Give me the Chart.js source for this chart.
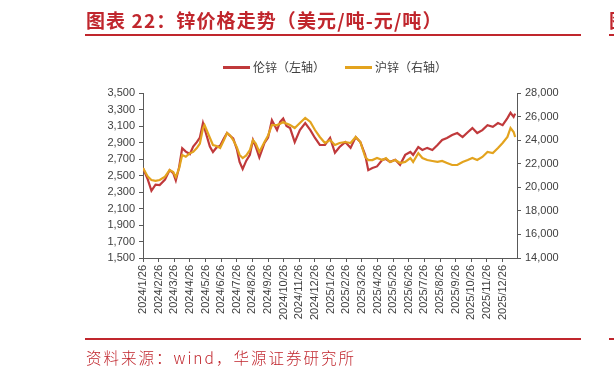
<!DOCTYPE html>
<html>
<head>
<meta charset="utf-8">
<script src="https://cdn.jsdelivr.net/npm/chart.js@4.4.1/dist/chart.umd.min.js"></script>
<style>
  html, body { margin: 0; padding: 0; background: #fff; }
  #wrap { position: relative; width: 614px; height: 377px; overflow: hidden; }
  #myChart { position: absolute; left: 0; top: 0; }
  .title { position: absolute; left: 86px; top: 7px; font: bold 19px "Noto Sans CJK SC"; color: #C0262D; white-space: nowrap; line-height: 26px; letter-spacing: 1.1px; }
  .rule { position: absolute; height: 2px; background: #C0262D; }
  .legend { position: absolute; top: 59px; font: 12px "Noto Sans CJK SC"; color: #404040; white-space: nowrap; line-height: 16px; }
  .legend span.ln { display: inline-block; width: 27px; height: 3px; vertical-align: middle; margin-right: 3px; position: relative; top: -1px; }
  .source { position: absolute; left: 86px; top: 346px; font: 300 15.5px "Noto Sans CJK SC"; color: #C0262D; letter-spacing: 2px; white-space: nowrap; line-height: 22px; }
</style>
</head>
<body>
<div id="wrap">
  <canvas id="myChart" width="614" height="377"></canvas>
  <div class="title">图表 22：锌价格走势（美元/吨-元/吨）</div>
  <div class="rule" style="left:85px; width:496px; top:34px;"></div>
  <div class="title" style="left:609px;">图</div>
  <div class="rule" style="left:609px; width:10px; top:34px;"></div>
  <div class="legend" style="left:223px;"><span class="ln" style="background:#C0393B"></span>伦锌（左轴）</div>
  <div class="legend" style="left:345px;"><span class="ln" style="background:#E3A31E"></span>沪锌（右轴）</div>
  <div class="rule" style="left:85px; width:496px; top:338px;"></div>
  <div class="rule" style="left:609px; width:10px; top:338px;"></div>
  <div class="source">资料来源：wind，华源证券研究所</div>
</div>
<script>
const tickLabels = ['2024/1/26', '2024/2/26', '2024/3/26', '2024/4/26', '2024/5/26', '2024/6/26',
  '2024/7/26', '2024/8/26', '2024/9/26', '2024/10/26', '2024/11/26', '2024/12/26',
  '2025/1/26', '2025/2/26', '2025/3/26', '2025/4/26', '2025/5/26', '2025/6/26',
  '2025/7/26', '2025/8/26', '2025/9/26', '2025/10/26', '2025/11/26', '2025/12/26']

const fechas = ['2024-01-26', '2024-02-05', '2024-02-12', '2024-02-20', '2024-02-28', '2024-03-08',
  '2024-03-17', '2024-03-24', '2024-03-29', '2024-04-05', '2024-04-11', '2024-04-18',
  '2024-04-26', '2024-05-02', '2024-05-09', '2024-05-15', '2024-05-21', '2024-05-24',
  '2024-06-04', '2024-06-10', '2024-06-17', '2024-06-24', '2024-07-01', '2024-07-07',
  '2024-07-13', '2024-07-19', '2024-07-26', '2024-08-01', '2024-08-07', '2024-08-14',
  '2024-08-21', '2024-08-27', '2024-09-02', '2024-09-09', '2024-09-19', '2024-09-26',
  '2024-10-03', '2024-10-13', '2024-10-19', '2024-10-25', '2024-11-01', '2024-11-08',
  '2024-11-17', '2024-11-27', '2024-12-07', '2024-12-17', '2024-12-26', '2025-01-05',
  '2025-01-15', '2025-01-25', '2025-02-04', '2025-02-13', '2025-02-24', '2025-03-04',
  '2025-03-14', '2025-03-23', '2025-04-02', '2025-04-08', '2025-04-16', '2025-04-25',
  '2025-05-05', '2025-05-12', '2025-05-20', '2025-05-30', '2025-06-09', '2025-06-19',
  '2025-06-29', '2025-07-04', '2025-07-14', '2025-07-22', '2025-08-01', '2025-08-11',
  '2025-08-21', '2025-08-30', '2025-09-09', '2025-09-19', '2025-09-29', '2025-10-09',
  '2025-10-19', '2025-10-28', '2025-11-07', '2025-11-17', '2025-11-27', '2025-12-07',
  '2025-12-17', '2025-12-26', '2026-01-05', '2026-01-11', '2026-01-17', '2026-01-20']

// 伦锌 美元/吨
const lunXin = [2590, 2450, 2315, 2390, 2385, 2450,
  2565, 2530, 2440, 2600, 2830, 2790,
  2760, 2850, 2905, 2960, 3135, 3070,
  2850, 2785, 2840, 2860, 2950, 3015,
  2980, 2950, 2820, 2665, 2580, 2680,
  2750, 2930, 2850, 2720, 2895, 2960,
  3170, 3050, 3150, 3190, 3100, 3075,
  2905, 3050, 3135, 3050, 2955, 2870,
  2870, 2955, 2775, 2845, 2905, 2835,
  2965, 2905, 2750, 2565, 2590, 2610,
  2690, 2700, 2665, 2690, 2630, 2750,
  2785, 2750, 2845, 2810, 2835, 2810,
  2870, 2930, 2955, 2990, 3015, 2965,
  3025, 3075, 3015, 3050, 3110, 3090,
  3135, 3110, 3195, 3260, 3210, 3250]

// 沪锌 元/吨
const huXin = [21640, 20900, 20620, 20550, 20620, 20900,
  21470, 21300, 20870, 21600, 22740, 22600,
  22900, 23000, 23330, 23700, 25000, 25280,
  24200, 23590, 23500, 23330, 24000, 24600,
  24400, 24010, 23400, 22740, 22480, 22700,
  23160, 24010, 23700, 23000, 23840, 24400,
  25280, 25280, 25400, 25540, 25400, 25280,
  25030, 25450, 25880, 25540, 24860, 24270,
  23760, 24010, 23590, 23760, 23840, 23760,
  24270, 23840, 22570, 22310, 22310, 22480,
  22310, 22480, 22150, 22310, 22060, 22150,
  22480, 22150, 22900, 22480, 22310, 22230,
  22150, 22230, 22060, 21890, 21890, 22150,
  22310, 22480, 22310, 22570, 23000, 22900,
  23330, 23760, 24270, 25030, 24690, 24270]

// fecha -> meses desde 2024/1/26
function aMes(f) {
  const [y, m, d] = f.split('-').map(Number)
  return (y - 2024) * 12 + (m - 1) + (d - 26) / 30.4
}

const colorEje = '#595959'
const fuente = { family: 'Liberation Sans', size: 11 }

const ctx = document.getElementById('myChart');
new Chart(ctx, {
  type: 'line',
  data: {
    datasets: [{
      label: '伦锌（左轴）',
      data: fechas.map((f, i) => ({ x: aMes(f), y: lunXin[i] })),
      borderColor: '#C0393B',
      borderWidth: 2.2,
      pointRadius: 0,
      tension: 0,
      yAxisID: 'y',
      order: 1
    }, {
      label: '沪锌（右轴）',
      data: fechas.map((f, i) => ({ x: aMes(f), y: huXin[i] })),
      borderColor: '#E3A31E',
      borderWidth: 2.2,
      pointRadius: 0,
      tension: 0,
      yAxisID: 'y1',
      order: 0
    }]
  },
  options: {
    responsive: false,
    animation: false,
    devicePixelRatio: 1,
    layout: { padding: { top: 93, left: 0, right: 0, bottom: 0 } },
    plugins: { legend: { display: false }, tooltip: { enabled: false } },
    scales: {
      x: {
        type: 'linear',
        min: 0,
        max: 23.92,
        afterBuildTicks: s => { s.ticks = tickLabels.map((t, i) => ({ value: i })) },
        afterFit: s => { s.height = 119 },
        ticks: {
          autoSkip: false,
          maxRotation: 90,
          minRotation: 90,
          padding: 3,
          color: '#404040',
          font: fuente,
          callback: v => tickLabels[Math.round(v)]
        },
        grid: { drawOnChartArea: false, tickLength: 4, color: colorEje },
        border: { color: colorEje }
      },
      y: {
        position: 'left',
        min: 1500,
        max: 3500,
        afterFit: s => { s.width = 143 },
        ticks: {
          stepSize: 200,
          padding: 4,
          color: '#404040',
          font: fuente,
          callback: v => v.toLocaleString('en-US')
        },
        grid: { drawOnChartArea: false, tickLength: 4, color: colorEje },
        border: { color: colorEje }
      },
      y1: {
        position: 'right',
        min: 14000,
        max: 28000,
        afterFit: s => { s.width = 97 },
        ticks: {
          stepSize: 2000,
          padding: 4,
          color: '#404040',
          font: fuente,
          callback: v => v.toLocaleString('en-US')
        },
        grid: { drawOnChartArea: false, tickLength: 4, color: colorEje },
        border: { color: colorEje }
      }
    }
  }
});
</script>
</body>
</html>
